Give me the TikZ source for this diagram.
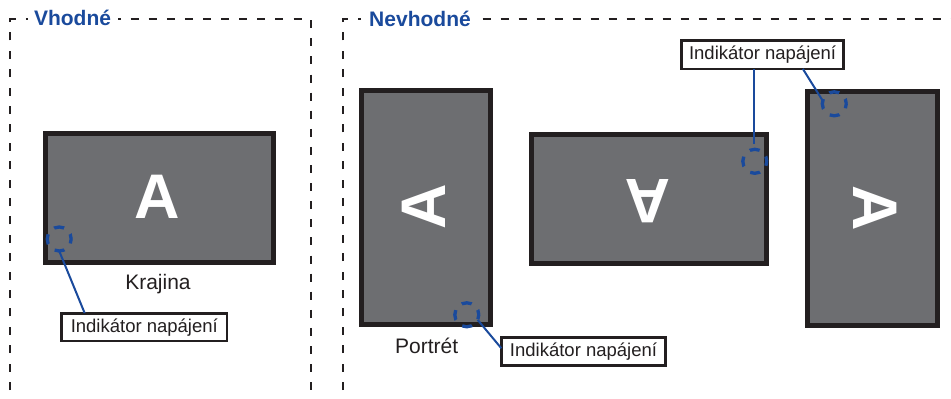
\documentclass[tikz,border=0pt]{standalone}
\usepackage{fontspec}
\setmainfont{Liberation Sans}
\usetikzlibrary{calc}
\definecolor{ink}{HTML}{231F20}
\definecolor{panel}{HTML}{6D6E71}
\definecolor{ledblue}{HTML}{1A4A9C}
\tikzset{
  frameline/.style={draw=ink,line width=2.3pt,dash pattern=on 8pt off 10.4pt},
  screen/.style={draw=ink,fill=panel,line width=5pt,inner sep=0pt,outer sep=0pt},
  bigA/.style={text=white,inner sep=0pt,font=\bfseries\fontsize{63}{63}\selectfont},
  heading/.style={text=ledblue,inner sep=0pt,anchor=base,font=\bfseries\fontsize{21}{21}\selectfont},
  caption/.style={text=ink,inner sep=0pt,anchor=base,font=\fontsize{21}{21}\selectfont},
  callout/.style={draw=ink,fill=white,line width=2.9pt,inner sep=0pt,outer sep=0pt,text=ink,
    text height=14pt,text depth=4pt,align=center,font=\fontsize{18.5}{18.5}\selectfont},
  led/.style={circle,draw=ledblue,line width=3.3pt,minimum size=24pt,inner sep=0pt,outer sep=0pt,
    dash pattern=on 10pt off 8.85pt,dash phase=5pt},
  wire/.style={draw=ledblue,line width=2pt},
}
\begin{document}
\begin{tikzpicture}[x=1pt,y=-1pt]
\useasboundingbox (0,0) rectangle (951,399);
% frames
\coordinate (fa) at (10.3,390);
\coordinate (fb) at (10.3,19.3);
\coordinate (fc) at (28,19.3);
\coordinate (fd) at (310.7,19.3);
\coordinate (fe) at (310.7,390);
\coordinate (ff) at (118,19.3);
\coordinate (ga) at (343,390);
\coordinate (gb) at (343,19);
\coordinate (gc) at (361,19);
\coordinate (gd) at (482.7,19);
\coordinate (ge) at (951,19);
\draw[frameline] (fa) -- (fb) -- (fc);
\draw[frameline,dash pattern=on 8pt off 10.1pt,dash phase=5.5pt] (ff) -- (fd) -- (fe);
\draw[frameline] (ga) -- (gb) -- (gc);
\draw[frameline,dash pattern=on 8.5pt off 9.5pt] (gd) -- (ge);
\node[heading] (h1) at (72.5,25) {Vhodné};
\node[heading] (h2) at (420,26.5) {Nevhodné};
% screens
\node[screen,minimum width=227.5pt,minimum height=129.8pt] (s1) at (159.7,197.9) {};
\node[screen,minimum width=129.3pt,minimum height=234pt] (s2) at (426.2,207.8) {};
\node[screen,minimum width=234.7pt,minimum height=129.3pt] (s3) at (649.2,199.2) {};
\node[screen,minimum width=129.7pt,minimum height=234.6pt] (s4) at (872.7,208.5) {};
\node[bigA] (a1) at (157.5,197) {A};
\node[bigA,rotate=90] (a2) at (424,206.7) {A};
\node[bigA,rotate=180] (a3) at (648,201) {A};
\node[bigA,rotate=-90] (a4) at (875.3,208.7) {A};
\node[caption] (c1) at (158,289) {Krajina};
\node[caption] (c2) at (426.7,353.3) {Portrét};
% callouts
\node[callout,minimum width=165.3pt,minimum height=27.9pt] (b1) at (144.3,327) {Indikátor napájení};
\node[callout,minimum width=164.3pt,minimum height=28pt] (b2) at (583.5,351.3) {Indikátor napájení};
\node[callout,minimum width=162.6pt,minimum height=28.3pt] (b3) at (762.6,54.8) {Indikátor napájení};
% indicators
\node[led] (l1) at (59.2,239) {};
\node[led] (l2) at (466.8,314.8) {};
\node[led] (l3) at (754.8,161.3) {};
\node[led] (l4) at (834.3,103.8) {};
% connectors
\draw[wire] (l1.south) -- ($(b1.north west)+(23,0)$);
\draw[wire] (l2.-25) -- ($(b2.west)+(0,-3)$);
\draw[wire] ($(b3.south west)+(72.7,0)$) -- ($(b3.south west)+(72.7,75)$);
\draw[wire] ($(b3.south east)+(-41,0)$) -- (l4.165);
\end{tikzpicture}
\end{document}
